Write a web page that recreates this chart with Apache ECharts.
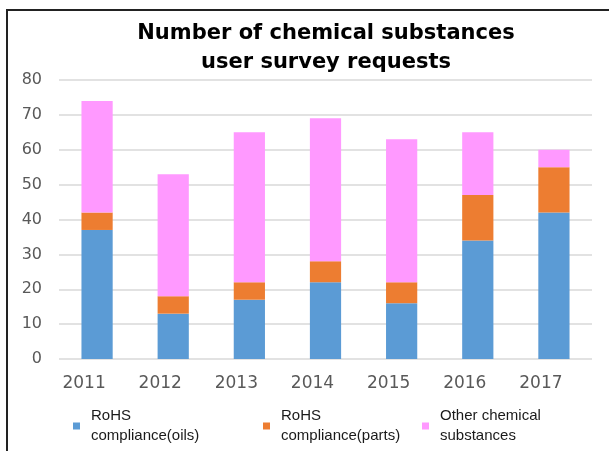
<!DOCTYPE html>
<html>
<head>
<meta charset="utf-8">
<script src="https://cdn.jsdelivr.net/npm/echarts@6/dist/echarts.min.js"></script>
<style>
html,body{margin:0;padding:0;background:#fff;}
#main{width:609px;height:451px;}
</style>
</head>
<body>
<div id="main"></div>
<script>
var categories = ['2011', '2012', '2013', '2014', '2015', '2016', '2017'];
var rohsOils = [37, 13, 17, 22, 16, 34, 42];
var rohsParts = [5, 5, 5, 6, 6, 13, 13];
var otherChem = [32, 35, 43, 41, 41, 18, 5];
var seriesNames = ['RoHS\ncompliance(oils)', 'RoHS\ncompliance(parts)', 'Other chemical\nsubstances'];
var yTicks = {min: 0, max: 80, interval: 10};

var chart = echarts.init(document.getElementById('main'));
var legendText = {fontFamily: 'Liberation Sans', fontSize: 15, color: '#1a1a1a', lineHeight: 20, padding: [0, 0, 0, 6]};
function mkLegend(name, left) {
  return {data: [name], left: left, top: 401, itemWidth: 7, itemHeight: 7, icon: 'rect', textStyle: legendText, selectedMode: false};
}
chart.setOption({
  animation: false,
  title: {
    text: 'Number of chemical substances\nuser survey requests',
    left: 321, textAlign: 'center', top: 14,
    textStyle: {fontFamily: 'DejaVu Sans', fontWeight: 'bold', fontSize: 21, lineHeight: 29, color: '#000'}
  },
  graphic: [{type: 'rect', shape: {x: 7, y: 10, width: 700, height: 500}, style: {fill: 'none', stroke: '#222', lineWidth: 2}}],
  legend: [mkLegend(seriesNames[0], 68), mkLegend(seriesNames[1], 258), mkLegend(seriesNames[2], 417)],
  grid: {left: 59, right: 17, top: 80, bottom: 92},
  xAxis: {
    type: 'category', data: categories,
    axisLine: {show: false}, axisTick: {show: false},
    axisLabel: {fontFamily: 'DejaVu Sans', fontSize: 17, color: '#595959', margin: 16, padding: [0, 26, 0, 0]}
  },
  yAxis: {
    type: 'value', min: yTicks.min, max: yTicks.max, interval: yTicks.interval,
    axisLine: {show: false}, axisTick: {show: false},
    splitLine: {lineStyle: {color: '#d9d9d9', width: 1.5}},
    axisLabel: {fontFamily: 'DejaVu Sans', fontSize: 16, color: '#595959', margin: 17}
  },
  series: [
    {name: seriesNames[0], type: 'bar', stack: 's', data: rohsOils, barWidth: '41%', itemStyle: {color: '#5b9bd5'}},
    {name: seriesNames[1], type: 'bar', stack: 's', data: rohsParts, itemStyle: {color: '#ed7d31'}},
    {name: seriesNames[2], type: 'bar', stack: 's', data: otherChem, itemStyle: {color: '#ff99ff'}}
  ]
});
</script>
</body>
</html>
